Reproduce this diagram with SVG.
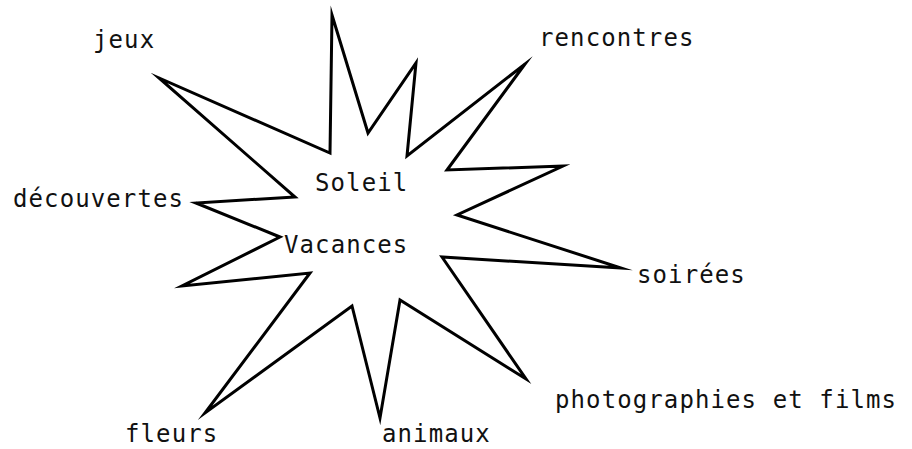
<svg xmlns="http://www.w3.org/2000/svg" width="912" height="449" viewBox="0 0 912 449">
<style>
.lbl{font-family:"DejaVu Sans Mono","Liberation Mono",monospace;font-size:24px;letter-spacing:1.1px;fill:#111}
.star{fill:none;stroke:#000;stroke-width:3;stroke-linejoin:miter;stroke-miterlimit:30}
</style>
<rect width="912" height="449" fill="#fff"/>
<g id="star">
<polygon class="star" points="332,15 368,133 416,63 407,156 525,64 447,170 563,166 457,215 621,268 442,257 526,379 400,300 380,418 352,306 205,413 310,273 182,286 280,237 196,203 295,197 159,78 330,153"/>
</g>
<g id="center">
<text class="lbl" x="315" y="191">Soleil</text>
<text class="lbl" x="284" y="253">Vacances</text>
</g>
<g id="labels">
<text class="lbl" x="93" y="48">jeux</text>
<text class="lbl" x="13" y="207">découvertes</text>
<text class="lbl" x="539" y="46">rencontres</text>
<text class="lbl" x="637" y="283">soirées</text>
<text class="lbl" x="555" y="408">photographies et films</text>
<text class="lbl" x="125" y="442">fleurs</text>
<text class="lbl" x="382" y="442">animaux</text>
</g>
</svg>
